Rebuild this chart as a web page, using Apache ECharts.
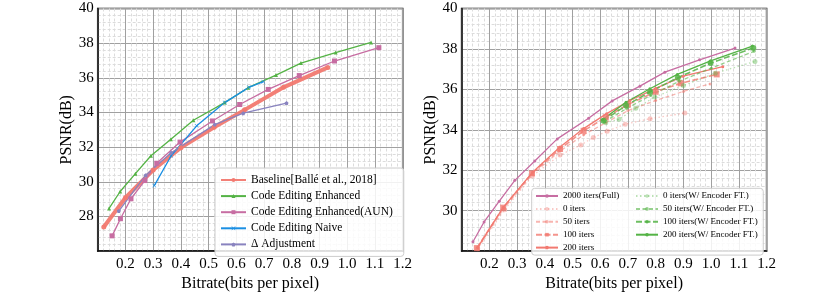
<!DOCTYPE html>
<html><head><meta charset="utf-8">
<script src="https://cdn.jsdelivr.net/npm/echarts@6/dist/echarts.min.js"></script>
<style>html,body{margin:0;padding:0;background:#fff}#c{width:830px;height:297px}</style>
</head><body><div id="c"></div>
<script>
// ---- Left chart data ----
const baselineX = [0.122, 0.2, 0.3, 0.4, 0.52, 0.63, 0.77, 0.93];
const baselineY = [27.39, 29.08, 30.68, 31.97, 33.15, 34.15, 35.45, 36.6];
const enhancedX = [0.141, 0.181, 0.236, 0.292, 0.364, 0.445, 0.558, 0.643, 0.743, 0.833, 0.958, 1.086];
const enhancedY = [28.46, 29.44, 30.47, 31.5, 32.46, 33.55, 34.57, 35.43, 36.16, 36.85, 37.46, 38.04];
const aunX = [0.152, 0.182, 0.22, 0.27, 0.313, 0.397, 0.514, 0.612, 0.715, 0.827, 0.954, 1.114];
const aunY = [26.88, 27.87, 29.02, 30.07, 31.07, 32.29, 33.51, 34.46, 35.33, 36.13, 36.97, 37.74];
const naiveX = [0.304, 0.365, 0.457, 0.558, 0.645, 0.697];
const naiveY = [29.78, 31.5, 33.23, 34.57, 35.45, 35.78];
const deltaX = [0.176, 0.273, 0.365, 0.522, 0.625, 0.781];
const deltaY = [28.31, 30.38, 31.68, 33.3, 33.96, 34.54];

// ---- Right chart data ----
const fullX = enhancedX;
const fullY = enhancedY;
const it0X = [0.158, 0.255, 0.355, 0.455, 0.53, 0.575, 0.625, 0.69, 0.78, 0.905];
const it0Y = [28.12, 30.05, 31.72, 32.75, 33.25, 33.62, 33.93, 34.28, 34.55, 34.83];
const it50X = [0.158, 0.252, 0.355, 0.455, 0.54, 0.62, 0.7, 0.8, 0.9, 0.996];
const it50Y = [28.15, 30.1, 31.8, 32.95, 33.75, 34.35, 34.95, 35.45, 35.9, 36.27];
const it100X = [0.155, 0.25, 0.354, 0.455, 0.54, 0.62, 0.7, 0.8, 0.89, 1.02];
const it100Y = [28.15, 30.15, 31.85, 33.05, 33.95, 34.62, 35.25, 35.88, 36.3, 36.74];
const it200X = [0.158, 0.25, 0.356, 0.455, 0.54, 0.623, 0.707, 0.8, 0.899, 1.042];
const it200Y = [28.18, 30.16, 31.9, 33.15, 34.06, 34.8, 35.45, 36.05, 36.65, 37.12];
const enc0X = [0.62, 0.668, 0.728, 0.797, 0.9, 1.015, 1.158];
const enc0Y = [34.35, 34.52, 35.06, 35.62, 36.19, 36.8, 37.38];
const enc50X = [0.615, 0.695, 0.782, 0.885, 1.0, 1.155];
const enc50Y = [34.4, 35.05, 35.7, 36.4, 37.05, 37.88];
const enc100X = [0.612, 0.693, 0.78, 0.88, 0.998, 1.152];
const enc100Y = [34.45, 35.2, 35.88, 36.58, 37.3, 38.05];
const enc200X = [0.608, 0.693, 0.779, 0.878, 0.998, 1.149];
const enc200Y = [34.5, 35.36, 36.03, 36.74, 37.41, 38.14];

const leftNames = ['Baseline[Ballé et al., 2018]', 'Code Editing Enhanced', 'Code Editing Enhanced(AUN)', 'Code Editing Naive', 'Δ Adjustment'];
const rightNames1 = ['2000 iters(Full)', '0 iters', '50 iters', '100 iters', '200 iters'];
const rightNames2 = ['0 iters(W/ Encoder FT.)', '50 iters(W/ Encoder FT.)', '100 iters(W/ Encoder FT.)', '200 iters(W/ Encoder FT.)'];
const xTicks = {min: 0.1, max: 1.2, interval: 0.1};
const yTicksLeft = {min: 26, max: 40, interval: 2};
const yTicksRight = {min: 28, max: 40, interval: 2};

const FONT = 'Liberation Serif';
const RED = '#F27970', GREEN = '#54B345', PINK = '#C76DA2', BLUE = '#1A8FE3', PURPLE = '#8983BF';
const XSYM = 'path://M0,1L1,0L5,4L9,0L10,1L6,5L10,9L9,10L5,6L1,10L0,9L4,5Z';
const PENT = 'path://M5,0L10,3.8L8.1,10L1.9,10L0,3.8Z';

const pairs = (xs, ys) => xs.map((x, i) => [x, ys[i]]);

function xAxis(gi) {
  return {
    type: 'value', gridIndex: gi, min: xTicks.min, max: xTicks.max, interval: xTicks.interval,
    name: 'Bitrate(bits per pixel)', nameLocation: 'middle', nameGap: 21,
    nameTextStyle: {fontFamily: FONT, fontSize: 16, color: '#000'},
    axisLabel: {fontFamily: FONT, fontSize: 15, color: '#000', margin: 5,
      formatter: v => (v < 0.15 ? '' : v.toFixed(1))},
    axisLine: {show: true, onZero: false, lineStyle: {color: '#111', width: 1.5}},
    axisTick: {show: false},
    splitLine: {show: true, lineStyle: {color: '#a0a0a0', width: 1}},
    minorTick: {show: false, splitNumber: 5},
    minorSplitLine: {show: true, lineStyle: {color: '#dcdcdc', width: 1, type: [3, 2]}}
  };
}
function yAxis(gi, t) {
  return {
    type: 'value', gridIndex: gi, min: t.min, max: t.max, interval: t.interval,
    name: 'PSNR(dB)', nameLocation: 'middle', nameGap: 21, nameRotate: 90,
    nameTextStyle: {fontFamily: FONT, fontSize: 16, color: '#000'},
    axisLabel: {fontFamily: FONT, fontSize: 15, color: '#000', margin: 4,
      formatter: v => (v === t.min ? '' : String(v))},
    axisLine: {show: true, onZero: false, lineStyle: {color: '#111', width: 1.5}},
    axisTick: {show: false},
    splitLine: {show: true, lineStyle: {color: '#a0a0a0', width: 1}},
    minorTick: {show: false, splitNumber: 5},
    minorSplitLine: {show: true, lineStyle: {color: '#dcdcdc', width: 1, type: [3, 2]}}
  };
}
function line(name, gi, xs, ys, color, o) {
  o = o || {};
  return {
    name, type: 'line', xAxisIndex: gi, yAxisIndex: gi, data: pairs(xs, ys),
    symbol: o.symbol || 'circle', symbolSize: o.size || 4, showSymbol: true,
    lineStyle: {color, width: o.width || 1.3, type: o.type || 'solid', opacity: o.op == null ? 1 : o.op},
    itemStyle: {color, opacity: o.op == null ? 1 : o.op},
    z: o.z || 2, animation: false, emphasis: {disabled: true}
  };
}

const chart = echarts.init(document.getElementById('c'), null, {renderer: 'canvas'});
chart.setOption({
  animation: false,
  grid: [
    {left: 97.7, top: 8.5, width: 305, height: 251.7, show: true, borderColor: '#111', borderWidth: 1.5, backgroundColor: 'transparent'},
    {left: 461.6, top: 8.5, width: 305, height: 251.7, show: true, borderColor: '#111', borderWidth: 1.5, backgroundColor: 'transparent'}
  ],
  xAxis: [xAxis(0), xAxis(1)],
  yAxis: [yAxis(0, yTicksLeft), yAxis(1, yTicksRight)],
  legend: [
    {left: 215, top: 168, orient: 'vertical', data: leftNames, selectedMode: false,
      itemWidth: 25, itemHeight: 5, itemGap: 4.1, padding: [6, 11, 6, 5],
      backgroundColor: 'rgba(255,255,255,0.85)', borderColor: '#cccccc', borderWidth: 1, borderRadius: 3,
      textStyle: {fontFamily: FONT, fontSize: 11.5, color: '#000', lineHeight: 12}},
    {left: 531.7, top: 188.3, orient: 'vertical', data: rightNames1, selectedMode: false,
      itemWidth: 22, itemHeight: 4.5, itemGap: 3.9, padding: [3.2, 144, 3, 3.3],
      backgroundColor: 'rgba(255,255,255,0.85)', borderColor: '#cccccc', borderWidth: 1, borderRadius: 3,
      textStyle: {fontFamily: FONT, fontSize: 9, color: '#000', lineHeight: 9}},
    {left: 635, top: 191.5, orient: 'vertical', data: rightNames2, selectedMode: false, z: 10,
      itemWidth: 22, itemHeight: 4.5, itemGap: 3.9, padding: 0,
      textStyle: {fontFamily: FONT, fontSize: 9, color: '#000', lineHeight: 9}}
  ],
  series: [
    line(leftNames[0], 0, baselineX, baselineY, RED, {width: 4, size: 5, op: 0.95}),
    line(leftNames[1], 0, enhancedX, enhancedY, GREEN, {symbol: 'triangle', size: 4}),
    line(leftNames[2], 0, aunX, aunY, PINK, {symbol: 'rect', size: 5}),
    line(leftNames[3], 0, naiveX, naiveY, BLUE, {symbol: XSYM, size: 4}),
    line(leftNames[4], 0, deltaX, deltaY, PURPLE, {symbol: PENT, size: 4}),

    line(rightNames1[0], 1, fullX, fullY, PINK, {symbol: 'circle', size: 3}),
    line(rightNames1[1], 1, it0X, it0Y, RED, {symbol: 'circle', size: 5, type: [1.5, 2.5], op: 0.4}),
    line(rightNames1[2], 1, it50X, it50Y, RED, {symbol: 'circle', size: 3, type: [4, 2.5], op: 0.55}),
    line(rightNames1[3], 1, it100X, it100Y, RED, {symbol: 'rect', size: 6, type: [6, 2.5], op: 0.8, width: 1.6}),
    line(rightNames1[4], 1, it200X, it200Y, RED, {symbol: 'circle', size: 3, op: 1}),
    line(rightNames2[0], 1, enc0X, enc0Y, GREEN, {symbol: 'circle', size: 5, type: [1.5, 2.5], op: 0.4}),
    line(rightNames2[1], 1, enc50X, enc50Y, GREEN, {symbol: 'circle', size: 3, type: [4, 2.5], op: 0.6}),
    line(rightNames2[2], 1, enc100X, enc100Y, GREEN, {symbol: 'circle', size: 6, type: [6, 2.5], op: 0.85, width: 1.6}),
    line(rightNames2[3], 1, enc200X, enc200Y, GREEN, {symbol: 'circle', size: 3, op: 1})
  ]
});
</script></body></html>
